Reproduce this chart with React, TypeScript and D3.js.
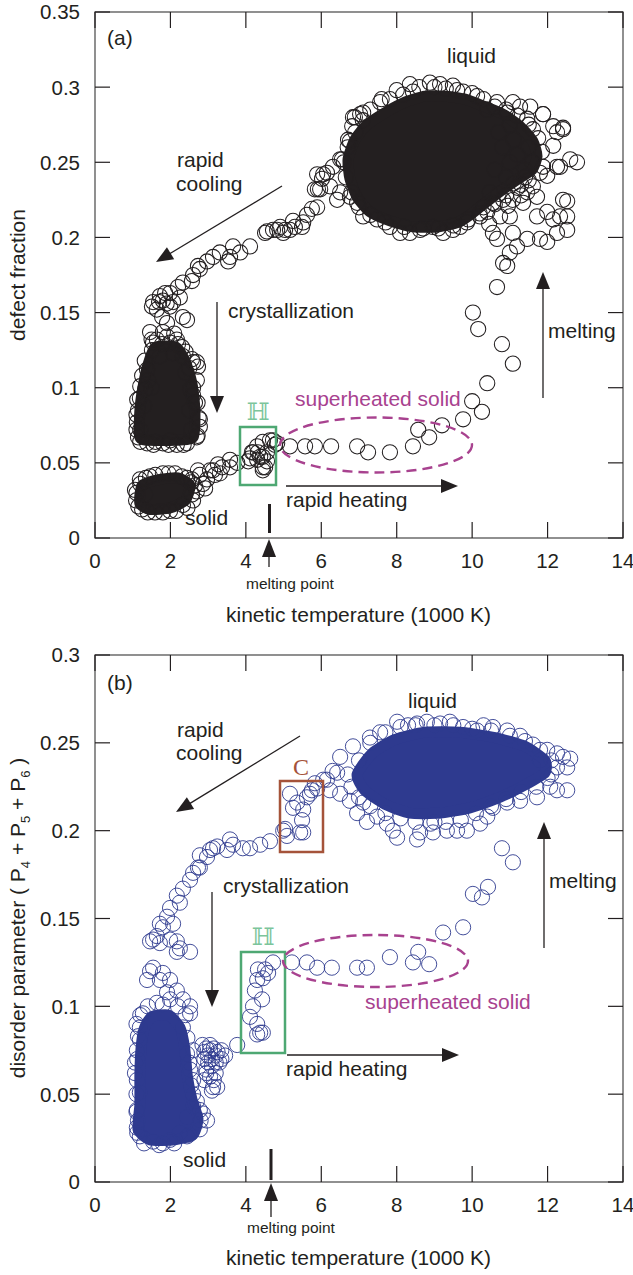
import React from 'react';
import * as d3 from 'd3';

type P = [number, number];

// ---------- axes ----------
const xTicks = [0, 2, 4, 6, 8, 10, 12, 14];
const yTicksA = [0, 0.05, 0.1, 0.15, 0.2, 0.25, 0.3, 0.35];
const yTickLabelsA = ['0', '0.05', '0.1', '0.15', '0.2', '0.25', '0.3', '0.35'];
const yTicksB = [0, 0.05, 0.1, 0.15, 0.2, 0.25, 0.3];
const yTickLabelsB = ['0', '0.05', '0.1', '0.15', '0.2', '0.25', '0.3'];

// ---------- panel (a): defect fraction ----------
const aLiquidCore: P[] = [
  [6.71, 0.252], [6.89, 0.265], [7.21, 0.275], [7.69, 0.283], [8.22, 0.29], [8.75, 0.294], [9.28, 0.294],
  [9.81, 0.292], [10.34, 0.287], [10.82, 0.282], [11.27, 0.274], [11.61, 0.264], [11.72, 0.254], [11.59, 0.245],
  [11.22, 0.239], [10.82, 0.232], [10.4, 0.224], [10.0, 0.216], [9.63, 0.21], [9.1, 0.207], [8.43, 0.207],
  [7.82, 0.211], [7.29, 0.217], [6.95, 0.227], [6.76, 0.239],
];
const aLiquidPts: P[] = [
  [8.35, 0.302], [8.43, 0.297], [8.88, 0.303], [9.15, 0.302], [9.49, 0.301], [9.76, 0.297], [10.13, 0.294],
  [8.17, 0.295], [7.82, 0.292], [7.56, 0.29], [7.03, 0.282], [6.84, 0.28], [6.82, 0.274], [6.71, 0.265],
  [6.5, 0.252], [6.31, 0.247], [6.05, 0.242], [5.97, 0.232], [6.23, 0.234], [6.5, 0.23], [6.76, 0.227],
  [6.95, 0.223], [7.11, 0.214], [7.48, 0.212], [7.82, 0.207], [8.09, 0.203], [8.35, 0.203], [8.62, 0.205],
  [8.96, 0.207], [9.23, 0.203], [9.49, 0.205], [9.68, 0.207], [9.86, 0.21], [10.21, 0.214], [10.4, 0.217],
  [10.55, 0.223], [10.82, 0.225], [11.08, 0.225], [11.35, 0.223], [11.46, 0.23], [11.72, 0.227], [11.61, 0.234],
  [11.99, 0.241], [11.88, 0.247], [12.25, 0.247], [12.6, 0.252], [12.15, 0.261], [12.41, 0.272], [12.15, 0.274],
  [11.88, 0.282], [11.27, 0.287], [11.08, 0.29], [10.93, 0.283], [11.46, 0.279], [11.61, 0.272], [10.66, 0.29],
  [10.4, 0.285], [10.47, 0.23], [10.74, 0.214], [11.0, 0.214], [10.55, 0.203], [10.66, 0.199], [11.08, 0.203],
  [11.46, 0.199], [11.8, 0.199], [11.99, 0.197], [12.25, 0.203], [12.52, 0.214], [12.41, 0.225], [11.99, 0.217],
  [12.15, 0.212], [11.72, 0.214], [11.19, 0.194], [11.0, 0.19], [10.82, 0.183], [12.52, 0.224], [12.33, 0.214],
  [12.52, 0.205], [12.78, 0.25], [12.33, 0.247], [12.41, 0.273], [12.25, 0.27], [11.88, 0.282], [11.54, 0.287],
  [10.8, 0.26], [11.0, 0.25], [11.2, 0.255], [11.4, 0.245], [10.9, 0.24], [11.1, 0.265], [11.5, 0.26],
  [11.3, 0.235], [10.6, 0.245], [11.6, 0.25], [11.0, 0.275], [10.7, 0.27], [6.15, 0.243], [6.42, 0.225],
  [6.55, 0.252], [6.76, 0.264], [6.89, 0.28], [7.11, 0.283],
  [7.3, 0.285], [7.6, 0.292], [8.0, 0.298], [8.6, 0.3], [9.0, 0.3], [9.3, 0.299], [9.6, 0.298], [10.0, 0.296],
  [10.3, 0.292], [10.6, 0.287], [10.9, 0.285], [11.2, 0.281], [11.5, 0.275], [11.75, 0.266], [11.85, 0.257],
  [11.8, 0.243], [11.5, 0.238], [11.2, 0.233], [10.9, 0.228], [10.6, 0.222], [10.2, 0.216], [9.9, 0.212],
  [9.5, 0.208], [9.1, 0.206], [8.7, 0.206], [8.2, 0.207], [7.7, 0.21], [7.3, 0.215], [7.0, 0.22], [6.8, 0.23],
  [6.65, 0.24], [6.6, 0.25], [6.7, 0.26], [6.9, 0.27], [7.1, 0.278],
  [10.3, 0.22], [10.7, 0.229], [11.1, 0.236], [11.4, 0.24], [10.45, 0.209], [10.95, 0.221], [11.3, 0.228],
];
const aCoolPts: P[] = [
  [6.02, 0.239], [5.89, 0.242], [5.83, 0.232], [5.91, 0.232], [5.75, 0.219], [5.89, 0.22], [5.62, 0.215],
  [5.52, 0.21], [5.49, 0.207], [5.3, 0.207], [5.25, 0.211], [5.17, 0.205], [5.04, 0.205], [4.99, 0.203],
  [4.91, 0.207], [4.83, 0.205], [4.72, 0.205], [4.56, 0.204], [4.51, 0.203], [4.11, 0.194], [3.85, 0.19],
  [3.66, 0.194], [3.58, 0.187], [3.53, 0.184], [3.31, 0.19], [3.13, 0.187], [2.97, 0.184], [2.78, 0.179],
  [2.73, 0.181], [2.6, 0.175], [2.57, 0.171], [2.33, 0.17], [2.2, 0.167], [1.99, 0.163], [1.86, 0.163],
  [1.72, 0.161], [1.54, 0.157], [1.51, 0.154], [1.64, 0.152], [1.99, 0.154], [2.07, 0.157], [2.25, 0.16],
  [1.8, 0.158], [1.9, 0.156], [1.7, 0.157], [2.33, 0.147], [2.44, 0.145], [1.78, 0.147], [1.91, 0.143],
  [1.46, 0.137], [1.54, 0.13], [1.78, 0.129], [1.99, 0.13], [2.2, 0.129], [2.07, 0.123], [1.72, 0.121],
  [2.57, 0.119], [2.7, 0.117],
];
const aCrystalCore: P[] = [
  [1.6, 0.127], [2.15, 0.127], [2.4, 0.117], [2.57, 0.103], [2.65, 0.085], [2.6, 0.067], [2.12, 0.065],
  [1.46, 0.065], [1.19, 0.067], [1.19, 0.085], [1.27, 0.1], [1.4, 0.115],
];
const aCrystalPts: P[] = [
  [2.6, 0.117], [2.73, 0.114], [2.7, 0.105], [2.52, 0.099], [2.65, 0.09], [2.78, 0.079], [2.78, 0.074],
  [2.7, 0.067], [2.44, 0.063], [2.17, 0.062], [1.8, 0.063], [1.38, 0.063], [1.14, 0.067], [1.11, 0.077],
  [1.14, 0.085], [1.19, 0.093], [1.33, 0.099], [1.41, 0.105], [1.38, 0.112], [1.51, 0.125], [1.64, 0.132],
  [1.91, 0.134], [2.17, 0.132], [2.31, 0.127], [2.33, 0.121], [1.3, 0.088], [2.55, 0.072], [2.0, 0.065],
  [1.6, 0.064], [2.4, 0.11], [1.5, 0.1], [2.6, 0.095], [1.2, 0.072], [2.5, 0.085],
  [1.25, 0.108], [1.32, 0.118], [1.5, 0.132], [1.8, 0.137], [2.1, 0.136], [2.4, 0.124], [2.5, 0.113],
  [2.6, 0.1], [2.72, 0.09], [2.75, 0.08], [2.72, 0.068], [2.35, 0.062], [1.95, 0.062], [1.55, 0.062],
  [1.2, 0.064], [1.1, 0.072], [1.1, 0.082], [1.12, 0.092], [1.2, 0.101],
];
const aSolidCore: P[] = [
  [1.25, 0.035], [1.72, 0.039], [2.2, 0.04], [2.52, 0.035], [2.39, 0.025], [1.99, 0.02], [1.46, 0.019], [1.19, 0.023],
];
const aSolidPts: P[] = [
  [1.19, 0.039], [1.46, 0.041], [1.8, 0.043], [2.12, 0.043], [2.44, 0.04], [2.65, 0.035], [2.57, 0.029],
  [2.33, 0.022], [1.99, 0.018], [1.59, 0.017], [1.25, 0.019], [1.09, 0.025], [1.06, 0.032], [1.33, 0.029],
  [2.7, 0.031], [2.86, 0.036], [2.97, 0.039], [3.05, 0.045], [3.13, 0.045], [3.26, 0.049], [3.37, 0.047],
  [3.58, 0.047], [3.58, 0.052], [3.77, 0.05], [2.78, 0.042], [3.18, 0.042], [2.92, 0.033], [2.57, 0.039],
  [2.73, 0.045], [3.31, 0.043],
  [1.1, 0.03], [1.2, 0.036], [1.35, 0.04], [1.6, 0.042], [1.95, 0.043], [2.3, 0.041], [2.55, 0.037],
  [2.6, 0.025], [2.45, 0.02], [2.15, 0.018], [1.8, 0.017], [1.4, 0.017], [1.15, 0.021],
];
const aHeatPts: P[] = [
  [4.06, 0.051], [4.11, 0.053], [4.16, 0.057], [4.3, 0.061], [4.45, 0.064], [4.72, 0.065], [4.32, 0.057],
  [4.38, 0.054], [4.56, 0.051], [4.3, 0.052], [4.45, 0.047], [4.51, 0.047], [4.45, 0.054], [4.56, 0.057],
  [4.64, 0.065], [4.77, 0.062], [4.19, 0.057], [4.45, 0.045],
  [4.83, 0.063], [5.17, 0.061], [5.57, 0.061], [5.83, 0.061], [6.26, 0.061], [6.95, 0.061], [7.24, 0.057],
  [7.82, 0.057], [8.43, 0.061], [8.86, 0.067], [8.57, 0.072], [9.2, 0.075], [9.76, 0.079], [10.26, 0.084],
  [10.0, 0.091], [10.4, 0.103], [11.08, 0.116], [10.79, 0.129], [10.16, 0.139], [10.02, 0.15], [10.66, 0.167],
  [10.93, 0.181],
];

// ---------- panel (b): disorder parameter ----------
const bLiquidCore: P[] = [
  [6.95, 0.232], [7.35, 0.244], [7.96, 0.252], [8.75, 0.256], [9.68, 0.256], [10.61, 0.253], [11.4, 0.248],
  [11.93, 0.24], [11.93, 0.233], [11.4, 0.226], [10.74, 0.219], [9.94, 0.213], [9.15, 0.21], [8.35, 0.21],
  [7.69, 0.215], [7.15, 0.223],
];
const bLiquidPts: P[] = [
  [8.01, 0.262], [8.54, 0.261], [8.8, 0.262], [9.15, 0.261], [9.41, 0.262], [9.76, 0.259], [10.13, 0.257],
  [10.55, 0.259], [10.93, 0.257], [11.27, 0.254], [11.61, 0.249], [11.99, 0.246], [12.25, 0.244], [12.6, 0.241],
  [12.52, 0.236], [12.25, 0.236], [12.52, 0.223], [12.25, 0.223], [12.07, 0.225], [11.72, 0.219], [11.27, 0.217],
  [10.93, 0.216], [10.55, 0.213], [10.4, 0.208], [10.21, 0.204], [9.86, 0.2], [9.6, 0.2], [9.33, 0.2],
  [8.96, 0.199], [8.62, 0.199], [8.54, 0.195], [8.01, 0.196], [7.74, 0.204], [7.21, 0.205], [6.95, 0.21],
  [6.76, 0.217], [6.5, 0.221], [6.23, 0.223], [6.42, 0.233], [6.5, 0.242], [6.84, 0.248], [7.29, 0.253],
  [7.56, 0.256], [6.15, 0.229], [7.11, 0.216], [7.48, 0.208], [12.41, 0.242], [12.1, 0.232], [11.8, 0.24],
  [8.3, 0.26], [10.3, 0.26], [7.9, 0.2], [9.0, 0.205],
  [7.0, 0.24], [7.3, 0.25], [7.7, 0.256], [8.1, 0.259], [8.5, 0.26], [9.0, 0.26], [9.5, 0.26], [10.0, 0.258],
  [10.5, 0.257], [11.0, 0.254], [11.4, 0.251], [11.8, 0.246], [12.1, 0.24], [12.0, 0.23], [11.7, 0.225],
  [11.3, 0.222], [10.9, 0.218], [10.5, 0.214], [10.1, 0.21], [9.7, 0.206], [9.3, 0.205], [8.9, 0.204],
  [8.5, 0.205], [8.1, 0.207], [7.7, 0.21], [7.3, 0.214], [7.0, 0.219], [6.8, 0.225], [6.7, 0.232],
];
const bCoolPts: P[] = [
  [6.05, 0.229], [6.3, 0.234], [5.89, 0.224], [5.83, 0.227], [5.75, 0.223], [5.7, 0.221], [5.62, 0.219],
  [5.17, 0.221], [5.36, 0.216], [5.52, 0.212], [5.25, 0.213], [5.49, 0.206], [5.52, 0.199], [5.44, 0.199],
  [5.04, 0.201], [5.09, 0.197], [4.99, 0.2], [4.64, 0.194], [4.38, 0.192], [4.11, 0.19], [3.92, 0.19],
  [3.66, 0.192], [3.58, 0.195], [3.5, 0.189], [3.24, 0.191], [3.13, 0.19], [3.05, 0.189], [2.97, 0.185],
  [2.78, 0.186], [2.78, 0.179], [2.73, 0.179], [2.6, 0.176], [2.52, 0.172], [2.33, 0.167], [2.17, 0.163],
  [2.25, 0.159], [1.99, 0.156], [1.91, 0.151], [2.07, 0.147], [1.8, 0.145], [1.72, 0.147], [1.64, 0.14],
  [1.54, 0.138], [1.46, 0.137], [1.72, 0.136], [1.99, 0.138], [2.17, 0.137], [2.25, 0.133], [2.52, 0.131],
  [2.17, 0.131], [1.46, 0.12], [1.54, 0.122], [1.8, 0.119], [1.99, 0.115], [2.17, 0.109], [2.52, 0.1],
  [1.38, 0.115], [1.72, 0.115], [1.91, 0.108],
];
const bCrystalCore: P[] = [
  [1.5, 0.094], [1.95, 0.095], [2.25, 0.088], [2.38, 0.076], [2.45, 0.06], [2.57, 0.047], [2.73, 0.036],
  [2.6, 0.027], [2.12, 0.024], [1.46, 0.024], [1.14, 0.03], [1.19, 0.044], [1.19, 0.061], [1.22, 0.076],
  [1.3, 0.087],
];
const bCrystalPts: P[] = [
  [1.11, 0.075], [1.06, 0.062], [1.19, 0.051], [1.11, 0.031], [1.19, 0.026], [1.54, 0.023], [1.99, 0.024],
  [2.44, 0.026], [2.78, 0.03], [2.97, 0.035], [2.78, 0.041], [2.6, 0.043], [3.13, 0.054], [2.6, 0.058],
  [2.52, 0.064], [2.44, 0.073], [2.33, 0.088], [2.52, 0.096], [2.33, 0.104], [1.99, 0.104], [1.64, 0.102],
  [1.27, 0.096], [1.19, 0.088], [1.14, 0.083], [1.06, 0.068], [1.11, 0.041], [1.14, 0.035], [2.25, 0.028],
  [2.44, 0.037], [2.86, 0.039], [1.11, 0.058], [1.19, 0.081], [1.8, 0.022], [2.6, 0.05],
  [1.1, 0.09], [1.12, 0.07], [1.1, 0.05], [1.1, 0.04], [1.12, 0.028], [1.3, 0.022], [1.7, 0.021], [2.1, 0.022],
  [2.5, 0.027], [2.8, 0.035], [2.7, 0.046], [2.55, 0.055], [2.5, 0.068], [2.45, 0.082], [2.4, 0.095],
  [2.2, 0.1], [1.8, 0.101], [1.4, 0.1], [1.2, 0.095],
  [2.85, 0.078], [2.95, 0.076], [3.05, 0.078], [3.15, 0.076], [3.25, 0.074], [3.35, 0.075], [3.45, 0.072],
  [3.0, 0.072], [3.1, 0.07], [3.2, 0.068], [2.9, 0.07], [3.3, 0.068], [3.1, 0.066], [2.95, 0.064],
  [3.2, 0.062], [3.05, 0.06], [2.9, 0.058], [3.24, 0.054], [3.1, 0.052], [2.6, 0.075], [3.77, 0.078],
  [2.9, 0.074], [3.0, 0.068], [3.2, 0.072], [3.35, 0.07], [3.05, 0.075], [2.95, 0.062], [3.15, 0.058],
];
const bHeatPts: P[] = [
  [4.72, 0.125], [4.51, 0.121], [4.32, 0.121], [4.3, 0.115], [4.24, 0.109], [4.43, 0.104], [4.19, 0.1],
  [4.11, 0.094], [4.3, 0.09], [4.38, 0.085], [4.3, 0.084], [4.45, 0.085], [4.59, 0.119], [4.45, 0.116],
  [5.22, 0.125], [5.62, 0.125], [5.89, 0.122], [6.28, 0.122], [6.95, 0.122], [7.21, 0.122], [7.82, 0.128],
  [8.43, 0.125], [8.57, 0.131], [8.86, 0.124], [9.23, 0.142], [9.76, 0.145], [10.02, 0.164], [10.26, 0.162],
  [10.42, 0.168], [10.79, 0.19], [11.08, 0.182],
];

const FONT = "'Liberation Sans', Arial, Helvetica, sans-serif";
const INK = '#231f20';
const BLUE = '#2e3a8f';
const MAGENTA = '#a8428f';
const GREEN = '#4ea873';
const BROWN = '#a5533a';

const xScale = d3.scaleLinear().domain([0, 14]).range([95, 623]);

function Arrow({ x1, y1, x2, y2, color = INK, head = 17, half = 7, w = 1.3 }: any) {
  const dx = x2 - x1, dy = y2 - y1;
  const L = Math.hypot(dx, dy);
  const ux = dx / L, uy = dy / L;
  const bx = x2 - ux * head, by = y2 - uy * head;
  const pts = [[x2, y2], [bx - uy * half, by + ux * half], [bx + uy * half, by - ux * half]];
  return (
    <g>
      <line x1={x1} y1={y1} x2={bx + ux * 2} y2={by + uy * 2} stroke={color} strokeWidth={w} />
      <polygon points={pts.map(p => p.join(',')).join(' ')} fill={color} />
    </g>
  );
}

function Panel({ top, bottom, yMax, yTicks, yLabels, color, sw, cores, points, children }: any) {
  const y = d3.scaleLinear().domain([0, yMax]).range([bottom, top]);
  const x = xScale;
  const line = d3.line<P>().x(d => x(d[0])).y(d => y(d[1])).curve(d3.curveCardinalClosed.tension(0.4));
  const L = x(0), R = x(14);
  return (
    <g>
      {cores.map((c: P[], i: number) => (
        <path key={'c' + i} d={line(c) as string} fill={color} stroke={color} strokeWidth={11} strokeLinejoin="round" />
      ))}
      {points.map((p: P, i: number) => (
        <circle key={'p' + i} cx={x(p[0])} cy={y(p[1])} r={7.6} fill="none" stroke={color} strokeWidth={sw} />
      ))}
      <rect x={L} y={top} width={R - L} height={bottom - top} fill="none" stroke="#555" strokeWidth={1.3} />
      {xTicks.map(t => (
        <g key={'xt' + t}>
          <line x1={x(t)} x2={x(t)} y1={bottom} y2={bottom - 16} stroke={INK} strokeWidth={1.2} />
          <line x1={x(t)} x2={x(t)} y1={top} y2={top + 16} stroke={INK} strokeWidth={1.2} />
          <text x={x(t)} y={bottom + 30} textAnchor="middle" fontSize={20.5} fontFamily={FONT} fill={INK}>{t}</text>
        </g>
      ))}
      {yTicks.map((t: number, i: number) => (
        <g key={'yt' + t}>
          <line x1={L} x2={L + 15} y1={y(t)} y2={y(t)} stroke={INK} strokeWidth={1.2} />
          <line x1={R} x2={R - 15} y1={y(t)} y2={y(t)} stroke={INK} strokeWidth={1.2} />
          <text x={80} y={y(t)} dy="0.36em" textAnchor="end" fontSize={20.5} fontFamily={FONT} fill={INK}>{yLabels[i]}</text>
        </g>
      ))}
      {children}
    </g>
  );
}

const T = (props: any) => <text fontSize={21} fontFamily={FONT} fill={INK} {...props} />;

export default function App() {
  return (
    <svg width={633} height={1275} style={{ position: 'absolute', left: 0, top: 0, background: '#fff' }}>
      <rect width={633} height={1275} fill="#fff" />
      {/* ---------------- panel (a) ---------------- */}
      <Panel top={12} bottom={538} yMax={0.35} yTicks={yTicksA} yLabels={yTickLabelsA} color={INK} sw={1.05}
        cores={[aLiquidCore, aCrystalCore, aSolidCore]}
        points={[...aLiquidPts, ...aCoolPts, ...aCrystalPts, ...aSolidPts, ...aHeatPts]}>
        <T x={107} y={45}>(a)</T>
        <T x={177} y={167}>rapid</T>
        <T x={176} y={191}>cooling</T>
        <Arrow x1={282} y1={186} x2={156} y2={262} />
        <T x={447} y={63}>liquid</T>
        <T x={228} y={318}>crystallization</T>
        <Arrow x1={217} y1={302} x2={217} y2={413} />
        <rect x={240} y={427} width={36} height={58} fill="none" stroke={GREEN} strokeWidth={2.5} />
        <text x={258} y={420} textAnchor="middle" fontSize={24} fontFamily="'DejaVu Serif', serif" fill="#7cc59b">ℍ</text>
        <ellipse cx={376} cy={445} rx={96} ry={27.5} fill="none" stroke={MAGENTA} strokeWidth={2.4} strokeDasharray="10 6" />
        <T x={295} y={406} fill={MAGENTA}>superheated solid</T>
        <Arrow x1={286} y1={486} x2={458} y2={486} />
        <T x={286} y={507}>rapid heating</T>
        <T x={548} y={338}>melting</T>
        <Arrow x1={543} y1={398} x2={543} y2={272} />
        <T x={185} y={525}>solid</T>
        <line x1={269.5} x2={269.5} y1={504} y2={533} stroke={INK} strokeWidth={3} />
        <Arrow x1={269} y1={567} x2={269} y2={539} head={18} half={7} />
        <text x={246} y={589} fontSize={15.5} fontFamily={FONT} fill={INK}>melting point</text>
        <T x={358.5} y={622} textAnchor="middle">kinetic temperature (1000 K)</T>
        <T transform="translate(25,275) rotate(-90)" textAnchor="middle">defect fraction</T>
      </Panel>

      {/* ---------------- panel (b) ---------------- */}
      <Panel top={655} bottom={1182} yMax={0.3} yTicks={yTicksB} yLabels={yTickLabelsB} color={BLUE} sw={0.9}
        cores={[bLiquidCore, bCrystalCore]}
        points={[...bLiquidPts, ...bCoolPts, ...bCrystalPts, ...bHeatPts]}>
        <T x={107} y={690}>(b)</T>
        <T x={177} y={737}>rapid</T>
        <T x={176} y={760}>cooling</T>
        <Arrow x1={300} y1={736} x2={176} y2={812} />
        <T x={408} y={708}>liquid</T>
        <rect x={280} y={781} width={43} height={71} fill="none" stroke={BROWN} strokeWidth={2.5} />
        <text x={301} y={775} textAnchor="middle" fontSize={24} fontFamily="'Liberation Serif', 'Times New Roman', serif" fill={BROWN}>C</text>
        <T x={223} y={893}>crystallization</T>
        <Arrow x1={212} y1={892} x2={212} y2={1007} />
        <rect x={241} y={952} width={44} height={101} fill="none" stroke={GREEN} strokeWidth={2.5} />
        <text x={263} y={945} textAnchor="middle" fontSize={24} fontFamily="'DejaVu Serif', serif" fill="#7cc59b">ℍ</text>
        <ellipse cx={375.5} cy={961} rx={92.5} ry={26} fill="none" stroke={MAGENTA} strokeWidth={2.4} strokeDasharray="10 6" />
        <T x={365} y={1009} fill={MAGENTA}>superheated solid</T>
        <Arrow x1={287} y1={1055} x2={459} y2={1055} />
        <T x={286} y={1076}>rapid heating</T>
        <T x={549} y={888}>melting</T>
        <Arrow x1={544} y1={948} x2={544} y2={822} />
        <T x={183} y={1167}>solid</T>
        <line x1={271} x2={271} y1={1149} y2={1180} stroke={INK} strokeWidth={3} />
        <Arrow x1={271} y1={1217} x2={271} y2={1183} head={18} half={7} />
        <text x={247} y={1233} fontSize={15.5} fontFamily={FONT} fill={INK}>melting point</text>
        <T x={358.5} y={1265} textAnchor="middle">kinetic temperature (1000 K)</T>
        <T transform="translate(25,918) rotate(-90)" textAnchor="middle">
          disorder parameter ( P<tspan fontSize={13} dy={5}>4</tspan><tspan dy={-5}> + P</tspan>
          <tspan fontSize={13} dy={5}>5</tspan><tspan dy={-5}> + P</tspan>
          <tspan fontSize={13} dy={5}>6</tspan><tspan dy={-5}> )</tspan>
        </T>
      </Panel>
    </svg>
  );
}
